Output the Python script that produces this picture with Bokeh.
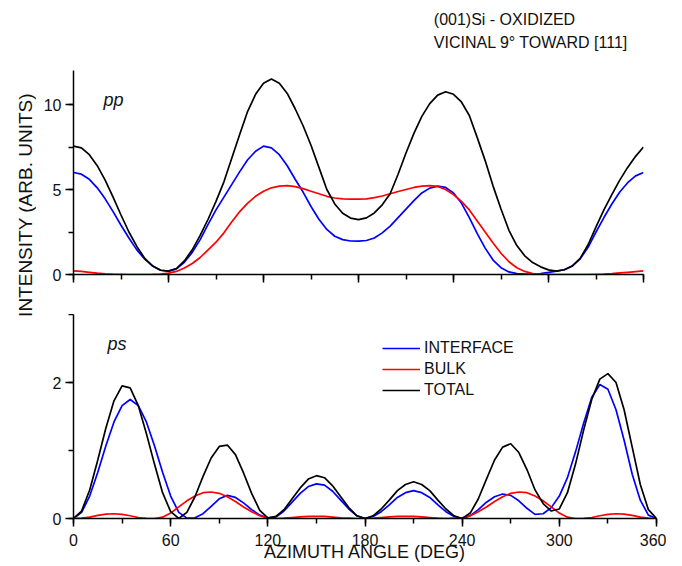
import numpy as np
from bokeh.plotting import figure
from bokeh.layouts import row, column
from bokeh.models import Range1d, SingleIntervalTicker, Label, Legend, LegendItem
from bokeh.embed import file_html
from bokeh.resources import INLINE

FONT = "Liberation Sans"
TXT = "#111111"

# azimuth angle (deg), sampled every 5 degrees
angle_deg = list(range(0, 361, 5))

# ---- pp polarization ----
pp_total = [7.55, 7.45, 7.05, 6.4, 5.55, 4.55, 3.5, 2.5, 1.65, 0.95, 0.5, 0.25,
            0.2, 0.35, 0.8, 1.45, 2.3, 3.25, 4.3, 5.45, 6.85, 8.25, 9.6, 10.6,
            11.25, 11.5, 11.25, 10.65, 9.75, 8.75, 7.6, 6.3, 5.0, 4.15, 3.6, 3.32,
            3.23, 3.33, 3.62, 4.1, 4.75, 5.9, 7.15, 8.3, 9.3, 10.05, 10.55, 10.75,
            10.6, 10.15, 9.35, 8.05, 6.7, 5.2, 3.85, 2.6, 1.7, 1.1, 0.7, 0.45,
            0.27, 0.2, 0.28, 0.5, 0.95, 1.75, 2.8, 3.8, 4.7, 5.55, 6.3, 6.95,
            7.5]
pp_interface = [6.0, 5.9, 5.6, 5.1, 4.45, 3.7, 2.9, 2.15, 1.45, 0.9, 0.5, 0.25,
                0.2, 0.33, 0.72, 1.3, 2.05, 2.95, 3.8, 4.55, 5.3, 6.05, 6.75, 7.25,
                7.55, 7.45, 7.05, 6.4, 5.6, 4.85, 4.0, 3.25, 2.65, 2.25, 2.05, 1.97,
                1.96, 2.0, 2.15, 2.45, 2.85, 3.35, 3.85, 4.35, 4.8, 5.08, 5.2, 5.12,
                4.8, 4.2, 3.35, 2.4, 1.55, 0.85, 0.4, 0.15, 0.05, 0.02, 0.03, 0.06,
                0.12, 0.2, 0.28, 0.5, 0.92, 1.6, 2.5, 3.35, 4.15, 4.85, 5.4, 5.8,
                6.0]
pp_bulk = [0.21, 0.18, 0.13, 0.08, 0.04, 0.02, 0.01, 0.0, 0.0, 0.0, 0.01, 0.03,
           0.08, 0.18, 0.38, 0.65, 1.0, 1.45, 1.9, 2.45, 3.1, 3.7, 4.2, 4.6,
           4.9, 5.1, 5.2, 5.23, 5.17, 5.05, 4.9, 4.75, 4.6, 4.5, 4.45, 4.43,
           4.43, 4.45, 4.52, 4.62, 4.75, 4.88, 5.0, 5.12, 5.2, 5.23, 5.18, 5.0,
           4.7, 4.3, 3.8, 3.15, 2.5, 1.85, 1.25, 0.75, 0.4, 0.18, 0.06, 0.02,
           0.01, 0.0, 0.0, 0.0, 0.0, 0.0, 0.01, 0.02, 0.05, 0.09, 0.13, 0.17,
           0.21]

# ---- ps polarization ----
ps_total = [0.0, 0.11, 0.42, 0.86, 1.33, 1.73, 1.95, 1.92, 1.66, 1.25, 0.8, 0.38,
            0.1, 0.0, 0.09, 0.32, 0.62, 0.89, 1.06, 1.08, 0.94, 0.67, 0.37, 0.12,
            0.01, 0.03, 0.13, 0.29, 0.45, 0.58, 0.63, 0.6, 0.48, 0.32, 0.16, 0.04,
            0.0, 0.04, 0.14, 0.27, 0.41, 0.5, 0.54, 0.5, 0.41, 0.27, 0.14, 0.04,
            0.0, 0.08, 0.29, 0.58, 0.86, 1.05, 1.1, 0.97, 0.72, 0.42, 0.22, 0.11,
            0.14, 0.38, 0.8, 1.3, 1.75, 2.05, 2.13, 2.0, 1.6, 1.05, 0.5, 0.13,
            0.0]
ps_interface = [0.0, 0.09, 0.33, 0.68, 1.07, 1.42, 1.66, 1.75, 1.66, 1.42, 1.07, 0.68,
                0.33, 0.09, 0.005, 0.01, 0.07, 0.18, 0.29, 0.34, 0.31, 0.23, 0.13, 0.05,
                0.005, 0.02, 0.11, 0.24, 0.37, 0.47, 0.51, 0.49, 0.4, 0.27, 0.14, 0.04,
                0.0, 0.03, 0.1, 0.2, 0.31, 0.38, 0.41, 0.38, 0.31, 0.2, 0.1, 0.03,
                0.0, 0.04, 0.13, 0.24, 0.32, 0.36, 0.34, 0.26, 0.15, 0.06, 0.07, 0.16,
                0.33, 0.6, 0.98, 1.4, 1.78, 1.97, 1.9, 1.6, 1.15, 0.65, 0.27, 0.05,
                0.0]
ps_bulk = [0.0, 0.005, 0.02, 0.045, 0.065, 0.07, 0.06, 0.04, 0.015, 0.002, 0.0, 0.02,
           0.08, 0.17, 0.26, 0.33, 0.38, 0.39, 0.37, 0.32, 0.25, 0.17, 0.1, 0.04,
           0.01, 0.0, 0.005, 0.015, 0.025, 0.03, 0.03, 0.03, 0.02, 0.01, 0.005, 0.0,
           0.0, 0.005, 0.015, 0.025, 0.03, 0.03, 0.03, 0.025, 0.015, 0.005, 0.0, 0.005,
           0.01, 0.04, 0.1, 0.17, 0.25, 0.32, 0.37, 0.39, 0.38, 0.33, 0.26, 0.17,
           0.08, 0.02, 0.0, 0.002, 0.015, 0.04, 0.06, 0.07, 0.065, 0.045, 0.02, 0.005,
           0.0]

series_labels = ["INTERFACE", "BULK", "TOTAL"]
series_colors = ["#0000FF", "#FF0000", "#000000"]
title_lines = ["(001)Si - OXIDIZED", "VICINAL 9\u00b0 TOWARD [111]"]
x_title = "AZIMUTH ANGLE (DEG)"
y_title = "INTENSITY (ARB. UNITS)"

LW = 1.7


def style_axis(ax, label_size="16px"):
    ax.axis_line_width = 1.5
    ax.axis_line_color = "black"
    ax.major_tick_line_width = 1.5
    ax.minor_tick_line_width = 1.5
    ax.major_tick_line_color = "black"
    ax.minor_tick_line_color = "black"
    ax.major_tick_out = 8
    ax.major_tick_in = 0
    ax.minor_tick_out = 5
    ax.minor_tick_in = 0
    ax.major_label_text_font = FONT
    ax.major_label_text_font_size = label_size
    ax.major_label_text_color = TXT
    ax.major_label_standoff = 4


def base_fig(fw, fh, ymax, ml, mr, mt, mb):
    p = figure(frame_width=fw, frame_height=fh,
               x_range=Range1d(0, 360), y_range=Range1d(0, ymax),
               min_border_left=ml, min_border_right=mr,
               min_border_top=mt, min_border_bottom=mb,
               output_backend="svg", toolbar_location=None, tools="")
    p.xgrid.visible = False
    p.ygrid.visible = False
    p.outline_line_color = None
    p.background_fill_color = "white"
    p.border_fill_color = "white"
    return p


def strip_fig(w, h):
    s = figure(width=w, height=h, x_range=Range1d(0, w), y_range=Range1d(0, h),
               min_border_left=0, min_border_right=0, min_border_top=0, min_border_bottom=0,
               x_axis_type=None, y_axis_type=None, output_backend="svg",
               toolbar_location=None, tools="")
    s.xgrid.visible = False
    s.ygrid.visible = False
    s.outline_line_color = None
    return s


# ---------------- title strip ----------------
ttl = strip_fig(638, 56)
ttl.add_layout(Label(x=404, y=37, text=title_lines[0], text_font=FONT,
                     text_font_size="16px", text_baseline="alphabetic", text_color=TXT))
ttl.add_layout(Label(x=404, y=14.5, text=title_lines[1], text_font=FONT,
                     text_font_size="16px", text_baseline="alphabetic", text_color=TXT))

# ---------------- top panel (pp) ----------------
top = base_fig(570, 204, 12, 36, 32, 14, 40)
for vals, col in zip([pp_interface, pp_bulk, pp_total], series_colors):
    top.line(angle_deg, vals, line_color=col, line_width=LW)
top.xaxis.ticker = SingleIntervalTicker(interval=60, num_minor_ticks=2)
top.yaxis.ticker = SingleIntervalTicker(interval=5, num_minor_ticks=2)
style_axis(top.xaxis[0])
style_axis(top.yaxis[0])
top.xaxis.major_label_overrides = {v: "" for v in [0, 60, 120, 180, 240, 300, 360]}
top.xaxis.major_label_standoff = 0

top.add_layout(Label(x=18.9, y=10.28, text="pp", text_font=FONT, text_font_size="18px",
                     text_font_style="italic", text_baseline="alphabetic", text_color=TXT))

# ---------------- bottom panel (ps) ----------------
bot = base_fig(583, 204, 3, 37, 10, 0, 48)
rends = []
for vals, col in zip([ps_interface, ps_bulk, ps_total], series_colors):
    rends.append(bot.line(angle_deg, vals, line_color=col, line_width=LW))
bot.xaxis.ticker = SingleIntervalTicker(interval=60, num_minor_ticks=2)
bot.yaxis.ticker = SingleIntervalTicker(interval=2, num_minor_ticks=2)
style_axis(bot.xaxis[0])
style_axis(bot.yaxis[0])
bot.xaxis.major_label_standoff = 7
bot.xaxis.axis_label = x_title
bot.xaxis.axis_label_text_font = FONT
bot.xaxis.axis_label_text_font_size = "18px"
bot.xaxis.axis_label_text_font_style = "normal"
bot.xaxis.axis_label_text_color = TXT
bot.xaxis.axis_label_standoff = -7

bot.add_layout(Label(x=21, y=2.57, text="ps", text_font=FONT, text_font_size="18px",
                     text_font_style="italic", text_baseline="alphabetic", text_color=TXT))

legend = Legend(items=[LegendItem(label=l, renderers=[r]) for l, r in zip(series_labels, rends)],
                location=(309, 118), margin=0, padding=0, spacing=1,
                glyph_width=38, glyph_height=20, label_height=20, label_standoff=4,
                label_text_font=FONT, label_text_font_size="16px", label_text_color=TXT,
                border_line_color=None, background_fill_alpha=0)
bot.add_layout(legend)

# ---------------- y-axis title strip ----------------
lab = strip_fig(36, 566)
lab.add_layout(Label(x=25, y=566 - 204.5, text=y_title, angle=np.pi / 2,
                     text_align="center", text_baseline="middle", text_font=FONT,
                     text_font_size="19px", text_color=TXT))

layout = row(lab, column(ttl, top, bot))
open("out.html", "w").write(file_html(layout, INLINE))
